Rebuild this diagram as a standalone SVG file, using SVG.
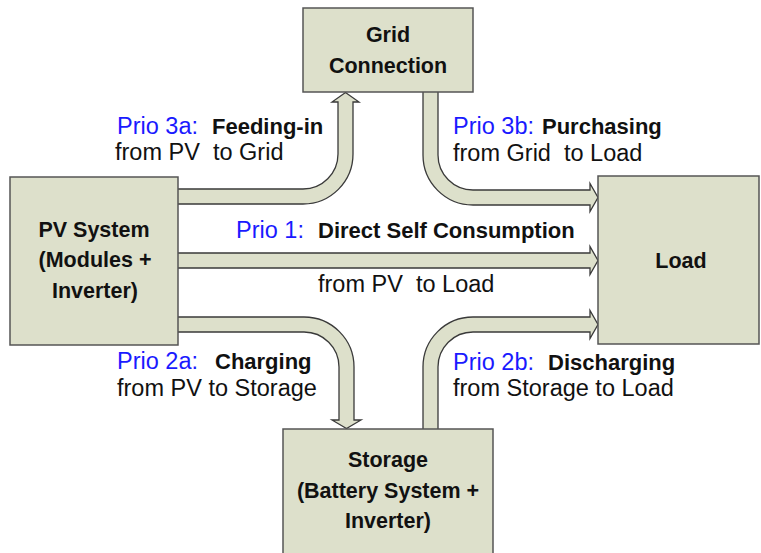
<svg xmlns="http://www.w3.org/2000/svg" width="761" height="553" viewBox="0 0 761 553">
<style>
.box{fill:#dde0cb;stroke:#555;stroke-width:1.5}
.arr{fill:#dde0cb;stroke:#3a3a3a;stroke-width:1.3;stroke-linejoin:miter}
text{white-space:pre}
.bt{font-family:"Liberation Sans",Arial,sans-serif;font-weight:bold;font-size:21.5px;fill:#111;text-anchor:middle}
.lb{font-family:"Liberation Sans",Arial,sans-serif;font-weight:bold;font-size:22px;fill:#111}
.lr{font-family:"Liberation Sans",Arial,sans-serif;font-size:23.5px;fill:#111}
.pr{font-family:"Liberation Sans",Arial,sans-serif;font-size:23.5px;fill:#1a1aff}
</style>
<rect width="761" height="553" fill="#fff"/>
<g id="connectors">
<path id="a3a" class="arr" d="M 170 189 H 303 A 35 35 0 0 0 338 154 V 102 H 332 L 345.5 92.5 L 359 102 H 353 V 154 A 50 50 0 0 1 303 204 H 170 Z"/>
<path id="a3b" class="arr" d="M 423 85 V 155 A 50 50 0 0 0 473 205 H 590 V 211.5 L 598 197.5 L 590 183.5 V 190 H 473 A 35 35 0 0 1 438 155 V 85 Z"/>
<path id="a1" class="arr" d="M 170 253 H 590 V 246.5 L 598 260.5 L 590 274.5 V 268 H 170 Z"/>
<path id="a2a" class="arr" d="M 170 317 H 304 A 50 50 0 0 1 354 367 V 420 H 361 L 346.5 428.5 L 332 420 H 339 V 367 A 35 35 0 0 0 304 332 H 170 Z"/>
<path id="a2b" class="arr" d="M 423 436 V 367 A 50 50 0 0 1 473 317 H 590 V 310.5 L 598 324.5 L 590 338.5 V 332 H 473 A 35 35 0 0 0 438 367 V 436 Z"/>
</g>
<g id="grid">
<rect class="box" x="303" y="8" width="170" height="84"/>
<text class="bt" x="388" y="42">Grid</text>
<text class="bt" x="388" y="73">Connection</text>
</g>
<g id="pv">
<rect class="box" x="10" y="177" width="168" height="168"/>
<text class="bt" x="94" y="237">PV System</text>
<text class="bt" x="95" y="267">(Modules +</text>
<text class="bt" x="95" y="298">Inverter)</text>
</g>
<g id="load">
<rect class="box" x="598" y="176" width="161" height="168"/>
<text class="bt" x="681" y="268">Load</text>
</g>
<g id="storage">
<rect class="box" x="283" y="429" width="210" height="135"/>
<text class="bt" x="388" y="467">Storage</text>
<text class="bt" x="388" y="498">(Battery System +</text>
<text class="bt" x="388" y="528">Inverter)</text>
</g>
<g id="labels">
<text class="pr" x="117" y="134">Prio 3a:</text>
<text class="lb" x="212" y="134">Feeding-in</text>
<text class="lr" x="115" y="160">from PV  to Grid</text>
<text class="pr" x="453" y="134">Prio 3b:</text>
<text class="lb" x="542" y="134">Purchasing</text>
<text class="lr" x="453" y="161">from Grid  to Load</text>
<text class="pr" x="236" y="238">Prio 1:</text>
<text class="lb" x="318" y="238">Direct Self Consumption</text>
<text class="lr" x="318" y="292">from PV  to Load</text>
<text class="pr" x="117" y="369">Prio 2a:</text>
<text class="lb" x="215" y="369">Charging</text>
<text class="lr" x="117" y="396">from PV to Storage</text>
<text class="pr" x="453" y="370">Prio 2b:</text>
<text class="lb" x="548" y="370">Discharging</text>
<text class="lr" x="453" y="396">from Storage to Load</text>
</g>
</svg>
